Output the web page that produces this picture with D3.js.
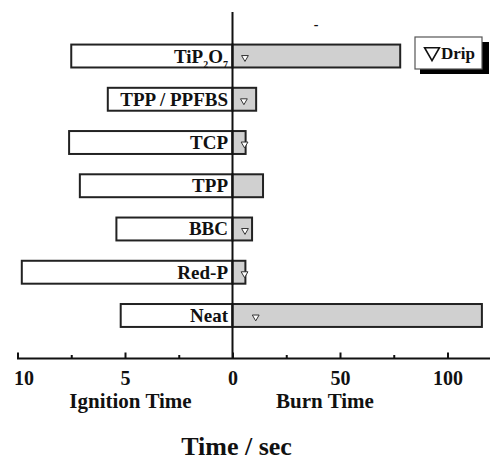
<!DOCTYPE html>
<html><head><meta charset="utf-8">
<script src="https://cdn.jsdelivr.net/npm/d3@7"></script>
<style>
body{margin:0;background:#fff;}
text{font-family:"Liberation Serif","Times New Roman",serif;font-weight:bold;fill:#111;}
</style></head>
<body><svg id="chart" width="490" height="461"></svg>
<script>
const categories = ["TiP2O7","TPP / PPFBS","TCP","TPP","BBC","Red-P","Neat"];
const ignitionTime = [7.5, 5.8, 7.6, 7.1, 5.4, 9.8, 5.2];
const burnTime = [78, 11, 6.1, 14.2, 9.1, 6.0, 116];
const dripTime = [5.8, 5.3, 5.6, null, 5.8, 5.6, 10.8];
const ignitionTicks = [10, 5, 0];
const ignitionMinor = [7.5, 2.5];
const burnTicks = [50, 100];
const burnMinor = [25, 75];

const svg = d3.select("#chart");
const cx = 232.5, axisY = 358.5;
const xL = d3.scaleLinear().domain([0, 10]).range([cx, 17.5]);
const xR = d3.scaleLinear().domain([0, 120]).range([cx, 490.5]);
const y = d3.scaleBand().domain(categories).range([34.4, 337.1]).paddingInner(0.47).paddingOuter(0.235);
const stroke = "#222";

svg.append("g").selectAll("rect").data(categories).join("rect")
  .attr("x", (d,i) => xL(ignitionTime[i]))
  .attr("y", d => y(d))
  .attr("width", (d,i) => cx - xL(ignitionTime[i]))
  .attr("height", y.bandwidth())
  .attr("fill", "#fff").attr("stroke", stroke).attr("stroke-width", 2);

svg.append("g").selectAll("rect").data(categories).join("rect")
  .attr("x", cx)
  .attr("y", d => y(d))
  .attr("width", (d,i) => xR(burnTime[i]) - cx)
  .attr("height", y.bandwidth())
  .attr("fill", "#d0d0d0").attr("stroke", stroke).attr("stroke-width", 2);

const lab = svg.append("g").selectAll("text").data(categories).join("text")
  .attr("x", 228)
  .attr("y", d => y(d) + y.bandwidth()/2 + 6.5)
  .attr("text-anchor", "end")
  .style("font-size", "19px");
lab.each(function(d){
  const t = d3.select(this);
  if (d === "TiP2O7") {
    t.append("tspan").text("TiP");
    t.append("tspan").text("2").attr("dy", 5).style("font-size", "10px");
    t.append("tspan").text("O").attr("dy", -5);
    t.append("tspan").text("7").attr("dy", 5).style("font-size", "10px");
  } else t.text(d);
});

const tri = d3.symbol().type(d3.symbolTriangle).size(20);
svg.append("g").selectAll("path").data(categories.map((c,i)=>({c, v: dripTime[i]})).filter(d => d.v != null))
  .join("path")
  .attr("d", tri)
  .attr("transform", d => `translate(${xR(d.v)},${y(d.c) + y.bandwidth()/2 + 1.5}) rotate(180)`)
  .attr("fill", "#fff").attr("stroke", "#333").attr("stroke-width", 1);

svg.append("line").attr("x1", cx).attr("x2", cx).attr("y1", 12).attr("y2", axisY)
  .attr("stroke", "#111").attr("stroke-width", 2);

svg.append("line").attr("x1", xL(10)-0.5).attr("x2", 490).attr("y1", axisY).attr("y2", axisY)
  .attr("stroke", "#111").attr("stroke-width", 2);

function styleAxis(g){
  g.select(".domain").remove();
  g.selectAll(".tick line").attr("stroke", "#111").attr("stroke-width", 2);
  g.selectAll(".tick text").attr("dy", null).attr("y", 26).style("font-size", "20px").attr("fill", "#111");
}
const gL = svg.append("g").attr("transform", `translate(0,${axisY})`)
  .call(d3.axisBottom(xL).tickValues(ignitionTicks).tickSize(-6).tickFormat(d3.format("d")));
styleAxis(gL);
gL.selectAll(".tick text").filter(d => d === 10).attr("dx", 6);
const gLm = svg.append("g").attr("transform", `translate(0,${axisY})`)
  .call(d3.axisBottom(xL).tickValues(ignitionMinor).tickSize(-3.5).tickFormat(""));
styleAxis(gLm);
const gR = svg.append("g").attr("transform", `translate(0,${axisY})`)
  .call(d3.axisBottom(xR).tickValues(burnTicks).tickSize(-6).tickFormat(d3.format("d")));
styleAxis(gR);
const gRm = svg.append("g").attr("transform", `translate(0,${axisY})`)
  .call(d3.axisBottom(xR).tickValues(burnMinor).tickSize(-3.5).tickFormat(""));
styleAxis(gRm);

svg.append("text").attr("x", 130.5).attr("y", 408).attr("text-anchor", "middle").style("font-size", "21px").text("Ignition Time");
svg.append("text").attr("x", 325).attr("y", 408).attr("text-anchor", "middle").style("font-size", "21px").text("Burn Time");
svg.append("text").attr("x", 236.5).attr("y", 455).attr("text-anchor", "middle").style("font-size", "26px").text("Time / sec");

svg.append("text").attr("x", 316).attr("y", 29).attr("text-anchor", "middle").style("font-size", "14px").text("-");

const lg = svg.append("g");
lg.append("rect").attr("x", 420).attr("y", 42).attr("width", 69).attr("height", 32).attr("fill", "#000");
lg.append("rect").attr("x", 415).attr("y", 37).attr("width", 67).attr("height", 32).attr("fill", "#fff").attr("stroke", "#555").attr("stroke-width", 1.2);
lg.append("path").attr("d", d3.symbol().type(d3.symbolTriangle).size(95))
  .attr("transform", "translate(432,52) rotate(180)")
  .attr("fill", "#fff").attr("stroke", "#111").attr("stroke-width", 1.6);
lg.append("text").attr("x", 441).attr("y", 59).style("font-size", "17px").text("Drip");
</script></body></html>
